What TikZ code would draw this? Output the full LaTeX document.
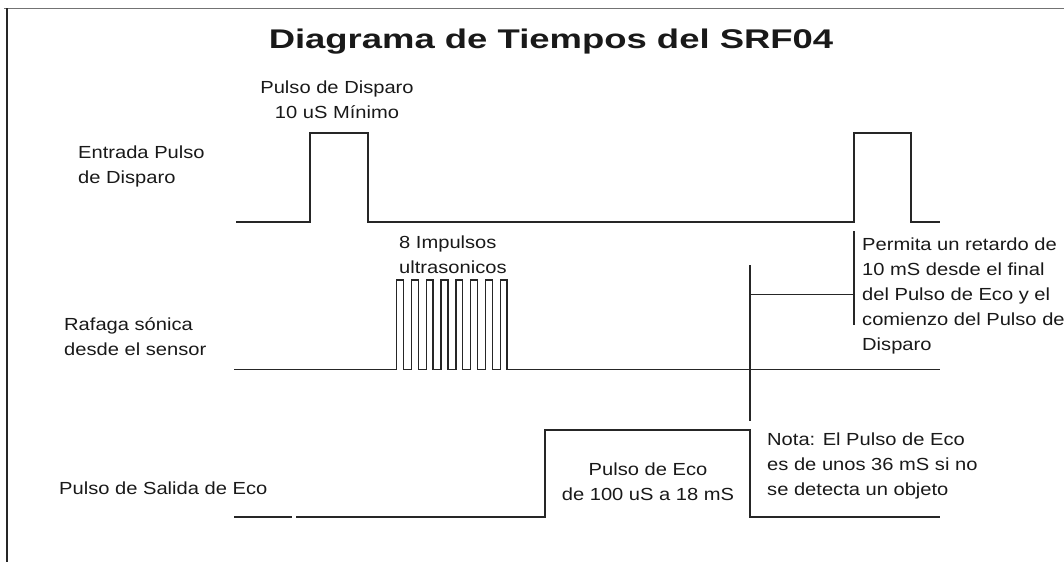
\documentclass[tikz,border=0pt]{standalone}
\usepackage{fontspec}
\setmainfont{Liberation Sans}[FakeStretch=1.15]
\newfontfamily\titlefont{Liberation Sans}[FakeStretch=1.35]

\begin{document}
\begin{tikzpicture}[x=1pt, y=-1pt, line join=miter,
    font=\fontsize{17.5}{25}\selectfont]

    \tikzstyle{signal}=[draw=black!85, line width=1.4pt]
    \tikzstyle{label}=[inner sep=0pt, text=black!90, align=left, anchor=base west]
    \tikzstyle{frame}=[draw=black!55, line width=1pt]

    \useasboundingbox (0,0) rectangle (1064,562);

    % marco
    \draw[frame] (4,8) -- (1064,8);
    \draw[frame, draw=black!85, line width=1.5pt] (7,8) -- (7,562);

    \node[label, anchor=base, font=\titlefont\bfseries\fontsize{27}{30}\selectfont]
        (titulo) at (551,48) {Diagrama de Tiempos del SRF04};

    % nombres de las señales (base = ultima linea)
    \node[label] (entrada) at (78,183)  {Entrada Pulso\\de Disparo};
    \node[label] (rafaga)  at (64,355)  {Rafaga sónica\\desde el sensor};
    \node[label] (salida)  at (59,494)  {Pulso de Salida de Eco};

    % entrada de disparo
    \draw[signal] (236,222) -- (310,222) -- (310,133) -- (368,133) -- (368,222)
        -- (854,222) -- (854,133) -- (911,133) -- (911,222) -- (940,222);
    \node[label, anchor=base, align=center] (disparo) at (337,118)
        {Pulso de Disparo\\10 uS Mínimo};

    % rafaga de 8 impulsos
    \draw[signal] (234,369.5)
        \foreach \k in {0,...,7} { -- ({396.7+14.8*\k},369.5) -- ++(0,-89.5) -- ++(6.8,0) -- ++(0,89.5) }
        -- (940,369.5);
    \node[label] (impulsos) at (399,273) {8 Impulsos\\ultrasonicos};

    % salida de eco
    \draw[signal] (234,517) -- (292,517);
    \draw[signal] (296,517) -- (545,517) -- (545,430) -- (750,430) -- (750,517) -- (940,517);
    \node[label, anchor=base, align=center] (eco) at (648,500)
        {Pulso de Eco\\de 100 uS a 18 mS};
    \node[label] (nota) at (767,495)
        {Nota: El Pulso de Eco\\es de unos 36 mS si no\\se detecta un objeto};

    % retardo de 10 mS
    \draw[signal] (750,265) -- (750,421);
    \draw[signal] (750,294.5) -- (854,294.5);
    \draw[signal] (854,231) -- (854,325);
    \node[label] (retardo) at (862,350)
        {Permita un retardo de\\10 mS desde el final\\del Pulso de Eco y el\\comienzo del Pulso de\\Disparo};

\end{tikzpicture}
\end{document}
